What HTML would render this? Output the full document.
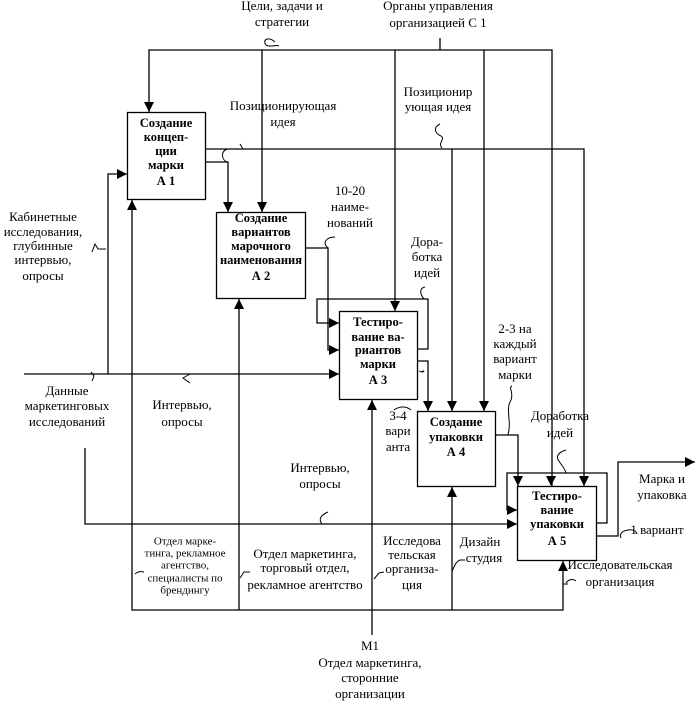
<!DOCTYPE html>
<html><head><meta charset="utf-8">
<style>
html,body{margin:0;padding:0;background:#fff;}
svg{display:block;}
text{font-family:"Liberation Serif","DejaVu Serif",serif;font-size:13px;fill:#000;text-anchor:middle;dominant-baseline:middle;}
.b{font-weight:bold;font-size:12.5px;}
.s{font-size:11px;}
</style></head>
<body>
<svg width="698" height="724" viewBox="0 0 698 724" xmlns="http://www.w3.org/2000/svg">
<g fill="none" stroke="#000" stroke-width="1.3">
<rect x="127.5" y="112.5" width="78" height="87"/>
<rect x="216.5" y="212.5" width="89" height="86"/>
<rect x="339.5" y="311.5" width="78" height="88"/>
<rect x="417.5" y="411.5" width="78" height="75"/>
<rect x="517.5" y="486.5" width="79" height="74"/>
<polyline points="149,112 149,50 552,50 552,486"/>
<line x1="262" y1="50" x2="262" y2="212"/>
<line x1="395" y1="50" x2="395" y2="311"/>
<line x1="484" y1="50" x2="484" y2="411"/>
<line x1="440" y1="38" x2="440" y2="50"/>
<polyline points="205,149 584,149 584,486"/>
<line x1="452" y1="149" x2="452" y2="411"/>
<polyline points="205,162 228,162 228,212"/>
<polyline points="305,248 328,248 328,350 339,350"/>
<polyline points="417,349 428,349 428,299 317,299 317,323 339,323"/>
<polyline points="417,361 428,361 428,411"/>
<line x1="24" y1="374" x2="339" y2="374"/>
<polyline points="108,374 108,174 127,174"/>
<polyline points="85,448 85,524 517,524"/>
<polyline points="495,435 518,435 518,486"/>
<polyline points="597,523 607,523 607,473 507,473 507,510 517,510"/>
<polyline points="597,536 618,536 618,462 695,462"/>
<polyline points="132,199 132,610 563,610 563,560"/>
<line x1="239" y1="298" x2="239" y2="610"/>
<line x1="372" y1="399" x2="372" y2="635"/>
<line x1="452" y1="486" x2="452" y2="610"/>
<g stroke-width="1">
<path d="M275,42 C268,36 262,40 266,45 C270,48 276,44 279,46"/>
<path d="M225,149 L230,149 M227,149 C220,152 222,160 227,162"/>
<path d="M240,144 L243,149"/>
<path d="M440,124 C432,128 436,134 441,136 C446,139 437,143 442,148"/>
<path d="M106,249 L98,249 L95,244 L92,252"/>
<path d="M92,381 L94,376 L91,372"/>
<path d="M190,383 L183,378 L190,374"/>
<path d="M328,248 C322,243 326,237 335,237"/>
<path d="M424,299 C419,293 420,288 425,287"/>
<path d="M419,371 C424,374 426,369 421,372"/>
<path d="M411,410 C405,405 398,407 394,410"/>
<path d="M508,435 C512,420 505,410 511,400 C514,392 508,388 512,386"/>
<path d="M566,473 C564,465 555,460 558,455 C560,452 563,451 566,450"/>
<path d="M322,524 C318,519 321,515 328,512"/>
<path d="M621,538 C619,534 622,531 628,530 C633,529 636,531 637,534"/>
<path d="M135,574 C137,572 140,571 144,572"/>
<path d="M240,578 L244,572 L250,572"/>
<path d="M374,579 L379,573 L384,572"/>
<path d="M452,571 C455,566 455,562 460,560 L465,560"/>
<path d="M563,584 L568,584 M566,583 C568,580 572,578 576,581"/>
</g>
</g>
<g fill="#000">
<polygon points="144,102 154,102 149,112"/>
<polygon points="223,202 233,202 228,212"/>
<polygon points="257,202 267,202 262,212"/>
<polygon points="390,301 400,301 395,311"/>
<polygon points="423,401 433,401 428,411"/>
<polygon points="447,401 457,401 452,411"/>
<polygon points="479,401 489,401 484,411"/>
<polygon points="513,476 523,476 518,486"/>
<polygon points="546,476 556,476 551,486"/>
<polygon points="579,476 589,476 584,486"/>
<polygon points="117,169 117,179 127,174"/>
<polygon points="329,318 329,328 339,323"/>
<polygon points="329,345 329,355 339,350"/>
<polygon points="329,369 329,379 339,374"/>
<polygon points="507,505 507,515 517,510"/>
<polygon points="507,519 507,529 517,524"/>
<polygon points="685,457 685,467 695,462"/>
<polygon points="127,210 137,210 132,200"/>
<polygon points="234,309 244,309 239,299"/>
<polygon points="367,410 377,410 372,400"/>
<polygon points="447,497 457,497 452,487"/>
<polygon points="558,571 568,571 563,561"/>
</g>
<text class="b" x="166" y="124">Создание</text>
<text class="b" x="166" y="138">концеп-</text>
<text class="b" x="166" y="152">ции</text>
<text class="b" x="166" y="166">марки</text>
<text class="b" x="166" y="182">А 1</text>
<text class="b" x="261" y="219">Создание</text>
<text class="b" x="261" y="233">вариантов</text>
<text class="b" x="261" y="247">марочного</text>
<text class="b" x="261" y="261">наименования</text>
<text class="b" x="261" y="277">А 2</text>
<text class="b" x="378" y="323">Тестиро-</text>
<text class="b" x="378" y="338">вание ва-</text>
<text class="b" x="378" y="351">риантов</text>
<text class="b" x="378" y="365">марки</text>
<text class="b" x="378" y="381">А 3</text>
<text class="b" x="456" y="423">Создание</text>
<text class="b" x="456" y="438">упаковки</text>
<text class="b" x="456" y="453">А 4</text>
<text class="b" x="557" y="497">Тестиро-</text>
<text class="b" x="557" y="511">вание</text>
<text class="b" x="557" y="525">упаковки</text>
<text class="b" x="557" y="542">А 5</text>
<text x="282" y="7">Цели, задачи и</text>
<text x="282" y="23">стратегии</text>
<text x="438" y="7">Органы управления</text>
<text x="438" y="24">организацией  С 1</text>
<text x="283" y="107">Позиционирующая</text>
<text x="283" y="123">идея</text>
<text x="438" y="93">Позиционир</text>
<text x="438" y="108">ующая идея</text>
<text x="350" y="192">10-20</text>
<text x="350" y="208">наиме-</text>
<text x="350" y="224">нований</text>
<text x="427" y="243">Дора-</text>
<text x="427" y="258">ботка</text>
<text x="427" y="274">идей</text>
<text x="515" y="330">2-3 на</text>
<text x="515" y="345">каждый</text>
<text x="515" y="360">вариант</text>
<text x="515" y="376">марки</text>
<text x="398" y="417">3-4</text>
<text x="398" y="432">вари</text>
<text x="398" y="448">анта</text>
<text x="560" y="417">Доработка</text>
<text x="560" y="434">идей</text>
<text x="662" y="480">Марка и</text>
<text x="662" y="496">упаковка</text>
<text x="657" y="531">1 вариант</text>
<text x="620" y="566">Исследовательская</text>
<text x="620" y="583">организация</text>
<text x="480" y="543">Дизайн</text>
<text x="484" y="559">студия</text>
<text x="412" y="542">Исследова</text>
<text x="412" y="556">тельская</text>
<text x="412" y="570">организа-</text>
<text x="412" y="586">ция</text>
<text x="305" y="555">Отдел маркетинга,</text>
<text x="305" y="569">торговый отдел,</text>
<text x="305" y="586">рекламное агентство</text>
<text class="s" x="185" y="542">Отдел марке-</text>
<text class="s" x="185" y="554">тинга, рекламное</text>
<text class="s" x="185" y="566">агентство,</text>
<text class="s" x="185" y="579">специалисты по</text>
<text class="s" x="185" y="591">брендингу</text>
<text x="320" y="469">Интервью,</text>
<text x="320" y="485">опросы</text>
<text x="182" y="406">Интервью,</text>
<text x="182" y="423">опросы</text>
<text x="67" y="392">Данные</text>
<text x="67" y="407">маркетинговых</text>
<text x="67" y="423">исследований</text>
<text x="43" y="218">Кабинетные</text>
<text x="43" y="233">исследования,</text>
<text x="43" y="247">глубинные</text>
<text x="43" y="261">интервью,</text>
<text x="43" y="277">опросы</text>
<text x="370" y="647">M1</text>
<text x="370" y="664">Отдел маркетинга,</text>
<text x="370" y="679">сторонние</text>
<text x="370" y="695">организации</text>
</svg>
</body></html>
